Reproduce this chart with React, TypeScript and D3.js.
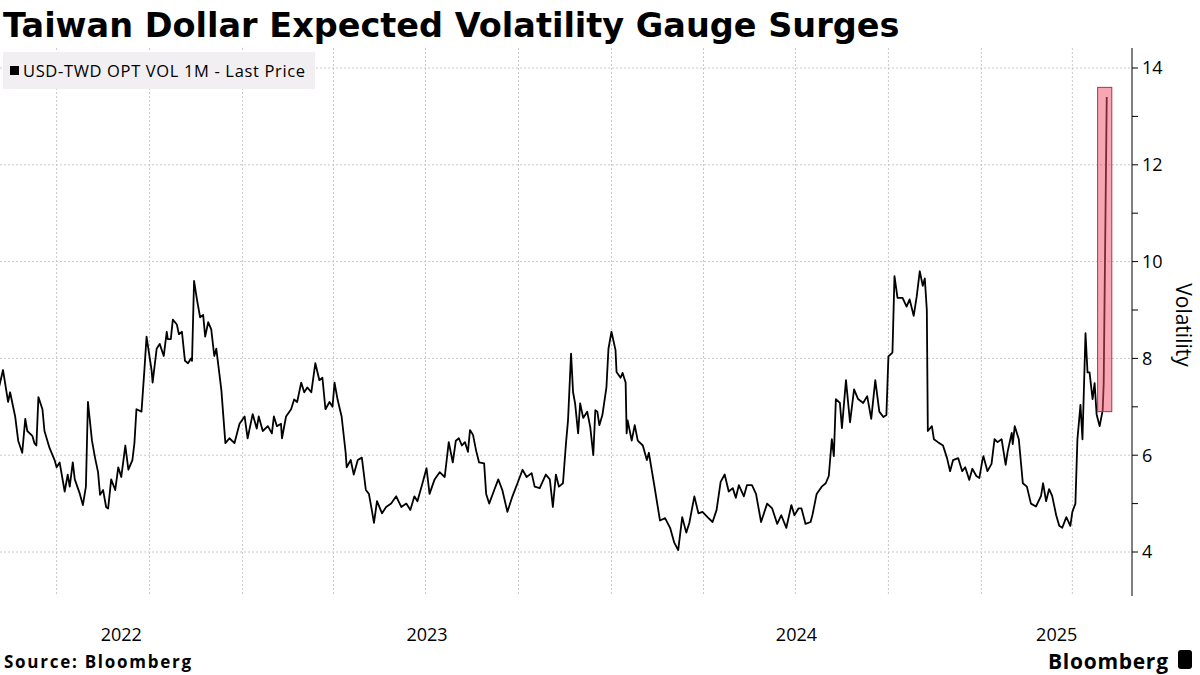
import React, { useRef, useEffect } from "react";
import * as d3 from "d3";

const title = "Taiwan Dollar Expected Volatility Gauge Surges";
const seriesName = "USD-TWD OPT VOL 1M - Last Price";
const yTicks = [4, 6, 8, 10, 12, 14];
const yMinorTicks = [5, 7, 9, 11, 13];
const yearLabels = ["2022", "2023", "2024", "2025"];

const volData: [string, number][] = [
  ["2022-05-05", 7.4], ["2022-05-09", 7.76], ["2022-05-14", 7.1], ["2022-05-16", 7.3], ["2022-05-21", 6.8],
  ["2022-05-24", 6.3], ["2022-05-28", 6.05], ["2022-05-31", 6.75], ["2022-06-02", 6.5], ["2022-06-07", 6.4],
  ["2022-06-09", 6.25], ["2022-06-11", 6.2], ["2022-06-13", 7.2], ["2022-06-17", 6.95], ["2022-06-19", 6.5],
  ["2022-06-24", 6.15], ["2022-06-29", 5.9], ["2022-07-01", 5.75], ["2022-07-04", 5.85], ["2022-07-09", 5.25],
  ["2022-07-12", 5.6], ["2022-07-14", 5.35], ["2022-07-17", 5.85], ["2022-07-19", 5.5], ["2022-07-24", 5.2],
  ["2022-07-27", 4.97], ["2022-07-30", 5.35], ["2022-08-01", 7.1], ["2022-08-05", 6.3], ["2022-08-08", 5.95],
  ["2022-08-11", 5.65], ["2022-08-13", 5.18], ["2022-08-16", 5.28], ["2022-08-19", 4.93], ["2022-08-21", 4.9],
  ["2022-08-24", 5.5], ["2022-08-28", 5.28], ["2022-08-31", 5.75], ["2022-09-03", 5.55], ["2022-09-07", 6.2],
  ["2022-09-10", 5.7], ["2022-09-14", 5.9], ["2022-09-16", 6.25], ["2022-09-18", 6.95], ["2022-09-23", 6.9],
  ["2022-09-26", 7.8], ["2022-09-28", 8.45], ["2022-10-03", 7.75], ["2022-10-04", 7.5], ["2022-10-08", 8.2],
  ["2022-10-11", 8.3], ["2022-10-15", 8.05], ["2022-10-18", 8.55], ["2022-10-19", 8.4], ["2022-10-22", 8.4],
  ["2022-10-24", 8.8], ["2022-10-28", 8.7], ["2022-10-30", 8.5], ["2022-11-02", 8.55], ["2022-11-05", 7.95],
  ["2022-11-08", 7.9], ["2022-11-11", 8.0], ["2022-11-12", 7.95], ["2022-11-14", 9.6], ["2022-11-17", 9.2],
  ["2022-11-20", 8.85], ["2022-11-23", 8.9], ["2022-11-25", 8.45], ["2022-11-28", 8.75], ["2022-12-01", 8.6],
  ["2022-12-04", 8.05], ["2022-12-06", 8.2], ["2022-12-11", 7.35], ["2022-12-15", 6.25], ["2022-12-19", 6.35],
  ["2022-12-24", 6.25], ["2022-12-29", 6.65], ["2023-01-03", 6.8], ["2023-01-06", 6.35], ["2023-01-11", 6.85],
  ["2023-01-15", 6.55], ["2023-01-17", 6.8], ["2023-01-21", 6.5], ["2023-01-26", 6.6], ["2023-01-30", 6.45],
  ["2023-02-01", 6.8], ["2023-02-04", 6.6], ["2023-02-08", 6.65], ["2023-02-09", 6.35], ["2023-02-13", 6.8],
  ["2023-02-18", 6.95], ["2023-02-21", 7.15], ["2023-02-24", 7.1], ["2023-02-28", 7.5], ["2023-03-03", 7.3],
  ["2023-03-06", 7.4], ["2023-03-10", 7.3], ["2023-03-14", 7.9], ["2023-03-18", 7.55], ["2023-03-21", 7.6],
  ["2023-03-24", 6.95], ["2023-03-28", 7.1], ["2023-03-31", 7.0], ["2023-04-02", 7.5], ["2023-04-05", 7.15],
  ["2023-04-09", 6.8], ["2023-04-13", 6.05], ["2023-04-14", 5.75], ["2023-04-18", 5.9], ["2023-04-21", 5.6],
  ["2023-04-25", 5.9], ["2023-04-29", 5.95], ["2023-05-03", 5.28], ["2023-05-06", 5.2], ["2023-05-09", 4.85],
  ["2023-05-11", 4.6], ["2023-05-14", 5.05], ["2023-05-19", 4.8], ["2023-05-23", 4.93], ["2023-05-28", 5.0],
  ["2023-06-02", 5.15], ["2023-06-07", 4.93], ["2023-06-12", 5.0], ["2023-06-16", 4.87], ["2023-06-20", 5.15],
  ["2023-06-23", 5.05], ["2023-06-28", 5.42], ["2023-07-02", 5.73], ["2023-07-05", 5.2], ["2023-07-10", 5.5],
  ["2023-07-15", 5.65], ["2023-07-20", 5.55], ["2023-07-24", 6.27], ["2023-07-28", 5.85], ["2023-07-31", 6.3],
  ["2023-08-03", 6.35], ["2023-08-06", 6.2], ["2023-08-09", 6.27], ["2023-08-12", 6.07], ["2023-08-14", 6.52],
  ["2023-08-17", 6.42], ["2023-08-20", 6.1], ["2023-08-23", 5.85], ["2023-08-28", 5.83], ["2023-08-30", 5.2],
  ["2023-09-02", 5.0], ["2023-09-07", 5.28], ["2023-09-11", 5.5], ["2023-09-15", 5.28], ["2023-09-20", 4.83],
  ["2023-09-25", 5.15], ["2023-09-30", 5.42], ["2023-10-05", 5.7], ["2023-10-09", 5.55], ["2023-10-14", 5.63],
  ["2023-10-17", 5.35], ["2023-10-22", 5.32], ["2023-10-28", 5.6], ["2023-11-01", 5.5], ["2023-11-04", 4.93],
  ["2023-11-07", 5.6], ["2023-11-10", 5.35], ["2023-11-14", 5.42], ["2023-11-17", 6.25], ["2023-11-19", 6.72],
  ["2023-11-22", 8.1], ["2023-11-24", 7.3], ["2023-11-26", 7.07], ["2023-11-29", 6.45], ["2023-12-01", 7.07],
  ["2023-12-04", 6.77], ["2023-12-08", 6.9], ["2023-12-11", 6.58], ["2023-12-14", 6.0], ["2023-12-16", 6.93],
  ["2023-12-18", 6.9], ["2023-12-20", 6.62], ["2023-12-23", 6.83], ["2023-12-27", 7.4], ["2023-12-29", 8.2],
  ["2024-01-01", 8.55], ["2024-01-05", 8.17], ["2024-01-06", 7.72], ["2024-01-10", 7.6], ["2024-01-12", 7.7],
  ["2024-01-15", 7.5], ["2024-01-16", 6.45], ["2024-01-17", 6.72], ["2024-01-21", 6.3], ["2024-01-24", 6.62],
  ["2024-01-27", 6.3], ["2024-02-01", 6.2], ["2024-02-05", 5.9], ["2024-02-07", 6.05], ["2024-02-12", 5.42],
  ["2024-02-18", 4.65], ["2024-02-23", 4.7], ["2024-02-28", 4.5], ["2024-03-03", 4.2], ["2024-03-07", 4.04],
  ["2024-03-11", 4.72], ["2024-03-15", 4.4], ["2024-03-18", 4.6], ["2024-03-23", 5.15], ["2024-03-27", 4.8],
  ["2024-03-31", 4.83], ["2024-04-05", 4.72], ["2024-04-10", 4.62], ["2024-04-14", 4.87], ["2024-04-18", 5.45],
  ["2024-04-22", 5.6], ["2024-04-26", 5.25], ["2024-04-30", 5.32], ["2024-05-03", 5.12], ["2024-05-06", 5.38],
  ["2024-05-11", 5.15], ["2024-05-14", 5.38], ["2024-05-19", 5.38], ["2024-05-23", 5.2], ["2024-05-28", 4.62],
  ["2024-06-03", 5.0], ["2024-06-08", 4.9], ["2024-06-13", 4.58], ["2024-06-17", 4.76], ["2024-06-22", 4.5],
  ["2024-06-27", 4.97], ["2024-06-30", 4.76], ["2024-07-04", 4.9], ["2024-07-07", 4.9], ["2024-07-11", 4.58],
  ["2024-07-16", 4.62], ["2024-07-18", 4.78], ["2024-07-22", 5.2], ["2024-07-27", 5.35], ["2024-07-31", 5.42],
  ["2024-08-03", 5.57], ["2024-08-06", 6.33], ["2024-08-08", 5.98], ["2024-08-10", 7.16], ["2024-08-14", 7.08],
  ["2024-08-16", 6.56], ["2024-08-20", 7.55], ["2024-08-24", 6.68], ["2024-08-28", 7.36], ["2024-09-01", 7.16],
  ["2024-09-06", 7.08], ["2024-09-10", 7.22], ["2024-09-14", 6.75], ["2024-09-18", 7.55], ["2024-09-22", 6.9],
  ["2024-09-26", 6.79], ["2024-09-29", 6.83], ["2024-10-01", 8.04], ["2024-10-05", 8.12], ["2024-10-07", 9.7],
  ["2024-10-10", 9.25], ["2024-10-15", 9.25], ["2024-10-19", 9.07], ["2024-10-22", 9.22], ["2024-10-26", 8.88],
  ["2024-10-29", 9.28], ["2024-11-01", 9.8], ["2024-11-04", 9.5], ["2024-11-06", 9.65], ["2024-11-08", 9.0],
  ["2024-11-09", 6.5], ["2024-11-13", 6.6], ["2024-11-15", 6.33], ["2024-11-19", 6.27], ["2024-11-24", 6.2],
  ["2024-11-28", 5.94], ["2024-12-01", 5.67], ["2024-12-04", 5.9], ["2024-12-09", 5.94], ["2024-12-13", 5.67],
  ["2024-12-16", 5.75], ["2024-12-20", 5.49], ["2024-12-23", 5.72], ["2024-12-27", 5.57], ["2024-12-30", 5.53],
  ["2025-01-02", 5.9], ["2025-01-03", 5.98], ["2025-01-07", 5.67], ["2025-01-11", 5.82], ["2025-01-14", 6.33],
  ["2025-01-17", 6.27], ["2025-01-21", 6.33], ["2025-01-25", 5.8], ["2025-01-27", 6.08], ["2025-01-31", 6.46],
  ["2025-02-01", 6.23], ["2025-02-03", 6.6], ["2025-02-07", 6.33], ["2025-02-11", 5.42], ["2025-02-15", 5.35],
  ["2025-02-19", 5.0], ["2025-02-24", 4.94], ["2025-03-01", 5.16], ["2025-03-03", 5.42], ["2025-03-06", 5.05],
  ["2025-03-09", 5.3], ["2025-03-12", 5.16], ["2025-03-16", 4.76], ["2025-03-19", 4.54], ["2025-03-22", 4.5],
  ["2025-03-26", 4.72], ["2025-03-30", 4.54], ["2025-04-01", 4.83], ["2025-04-04", 5.0], ["2025-04-06", 6.33],
  ["2025-04-09", 7.04], ["2025-04-11", 6.33], ["2025-04-14", 8.52], ["2025-04-16", 7.71], ["2025-04-18", 7.71],
  ["2025-04-21", 7.16], ["2025-04-23", 7.49], ["2025-04-25", 6.84], ["2025-04-28", 6.6], ["2025-05-01", 6.93],
  ["2025-05-02", 7.49], ["2025-05-05", 13.4],
];

// highlighted surge window
const highlightDates = ["2025-04-26", "2025-05-10"];
const highlightValues = [6.9, 13.6];

const W = 1200;
const H = 675;
const plot = { left: 0, right: 1132, top: 48, bottom: 596 };
const font = "'Open Sans', 'DejaVu Sans', sans-serif";
const narrow = "'Liberation Sans Narrow', 'Roboto Condensed', 'Open Sans', sans-serif";

const App: React.FC = () => {
  const ref = useRef<SVGSVGElement | null>(null);

  useEffect(() => {
    const parse = d3.timeParse("%Y-%m-%d");
    const data = volData.map(([d, v]) => ({ date: parse(d) as Date, value: v }));

    const svg = d3.select(ref.current);
    svg.selectAll("*").remove();

    const x = d3
      .scaleTime()
      .domain([new Date(2022, 4, 6), new Date(2025, 4, 30)])
      .range([plot.left, plot.right]);
    const y = d3.scaleLinear().domain([4, 14]).range([552, 68]);

    // title
    svg.append("text").attr("x", 3).attr("y", 37)
      .style("font-family", "'DejaVu Sans', sans-serif").style("font-weight", "bold")
      .style("font-size", "33.5px").attr("fill", "#000").text(title);

    // grid
    const g = svg.append("g");
    const quarters = d3.timeMonth.every(3)!.range(x.domain()[0], x.domain()[1]);
    g.selectAll("line.vg").data(quarters).join("line")
      .attr("x1", (d) => x(d)).attr("x2", (d) => x(d))
      .attr("y1", plot.top).attr("y2", plot.bottom)
      .attr("stroke", "#c8c8c8").attr("stroke-dasharray", "2,2");
    g.selectAll("line.hg").data(yTicks).join("line")
      .attr("x1", plot.left).attr("x2", plot.right)
      .attr("y1", (d) => y(d)).attr("y2", (d) => y(d))
      .attr("stroke", "#c8c8c8").attr("stroke-dasharray", "2,2");

    // legend
    svg.append("rect").attr("x", 3).attr("y", 52).attr("width", 312).attr("height", 37).attr("fill", "#f1eff2");
    svg.append("rect").attr("x", 10).attr("y", 66).attr("width", 9).attr("height", 9).attr("fill", "#000");
    svg.append("text").attr("x", 23).attr("y", 77).style("font-family", font)
      .style("font-size", "16.5px").attr("textLength", 282).attr("fill", "#000").text(seriesName);

    // line
    const line = d3.line<{ date: Date; value: number }>()
      .x((d) => x(d.date)).y((d) => y(d.value));
    svg.append("path").datum(data).attr("fill", "none").attr("stroke", "#000")
      .attr("stroke-width", 1.8).attr("stroke-linejoin", "round").attr("d", line);

    // highlight, drawn over the line
    const hx0 = x(parse(highlightDates[0]) as Date);
    const hx1 = x(parse(highlightDates[1]) as Date);
    svg.append("rect").attr("x", hx0).attr("width", hx1 - hx0)
      .attr("y", y(highlightValues[1])).attr("height", y(highlightValues[0]) - y(highlightValues[1]))
      .attr("fill", "rgba(240,80,105,0.5)").attr("stroke", "#b3303f").attr("stroke-width", 1);

    // right axis
    const axis = svg.append("g").attr("transform", `translate(${plot.right},0)`);
    axis.append("line").attr("y1", plot.top).attr("y2", plot.bottom).attr("stroke", "#000");
    axis.selectAll("line.t").data([...yTicks, ...yMinorTicks]).join("line")
      .attr("x1", 0).attr("x2", 6).attr("y1", (d) => y(d)).attr("y2", (d) => y(d)).attr("stroke", "#000");
    axis.selectAll("text").data(yTicks).join("text")
      .attr("x", 10).attr("y", (d) => y(d)).attr("dy", "0.35em")
      .style("font-family", font).style("font-size", "18px").attr("fill", "#000")
      .text((d) => String(d));
    svg.append("text").attr("transform", `translate(1176,325) rotate(90)`)
      .attr("text-anchor", "middle").style("font-family", font).style("font-size", "21px")
      .attr("fill", "#000").text("Volatility");

    // year labels centred on the visible part of each year
    yearLabels.forEach((yr) => {
      const a = Math.max(x(new Date(+yr, 0, 1)), plot.left);
      const b = Math.min(x(new Date(+yr + 1, 0, 1)), plot.right);
      svg.append("text").attr("x", (a + b) / 2).attr("y", 641).attr("text-anchor", "middle")
        .style("font-family", font).style("font-size", "18px").attr("fill", "#000").text(yr);
    });

    svg.append("text").attr("x", 4).attr("y", 668).style("font-family", font)
      .style("font-weight", "bold").style("font-size", "17px").attr("textLength", 187)
      .attr("fill", "#000").text("Source: Bloomberg");
    svg.append("text").attr("x", 1168).attr("y", 669).attr("text-anchor", "end").style("font-family", font)
      .style("font-weight", "bold").style("font-size", "21px").attr("textLength", 120)
      .attr("fill", "#000").text("Bloomberg");
    svg.append("rect").attr("x", 1178).attr("y", 650).attr("width", 14).attr("height", 19).attr("rx", 3).attr("fill", "#000");
  }, []);

  return (
    <svg ref={ref} width={W} height={H}
      style={{ position: "absolute", left: 0, top: 0, background: "#fff" }} />
  );
};

export default App;
